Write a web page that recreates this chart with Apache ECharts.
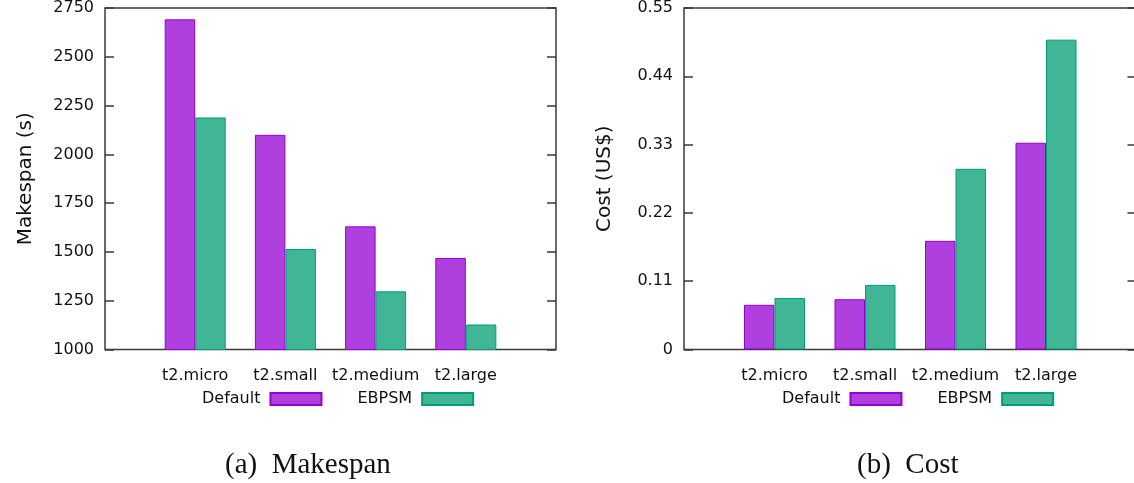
<!DOCTYPE html>
<html>
<head>
<meta charset="utf-8">
<script src="https://cdn.jsdelivr.net/npm/echarts@6/dist/echarts.min.js"></script>
<style>
html,body{margin:0;padding:0;background:#fff;}
#chart{width:1134px;height:483px;}
</style>
</head>
<body>
<div id="chart"></div>
<script>
const categories = ['t2.micro', 't2.small', 't2.medium', 't2.large'];
const seriesNames = ['Default', 'EBPSM'];
const makespanDefault = [2692, 2100, 1631, 1469];
const makespanEBPSM = [2189, 1515, 1298, 1128];
const costDefault = [0.072, 0.081, 0.175, 0.333];
const costEBPSM = [0.083, 0.104, 0.291, 0.499];
const makespanTicks = {min: 1000, max: 2750, interval: 250};
const costTicks = {min: 0, max: 0.55, interval: 0.11};
const captions = ['(a)  Makespan', '(b)  Cost'];

const FONT = '"DejaVu Sans", Verdana, sans-serif';
const TXT = '#111';
const AX = '#3a3a3a';
const purpleFill = '#af40de', purpleLine = '#9400d3';
const greenFill = '#40b696', greenLine = '#009e73';

const xCats = [''].concat(categories, ['']);
const pad = a => [null].concat(a, [null]);

function fmt(v){ return String(Math.round(v * 1000) / 1000); }

const grids = [
  {left: 105, top: 8, width: 451, height: 341.5, show: true, borderColor: AX, borderWidth: 1.5, backgroundColor: 'transparent', outerBoundsMode: 'none', containLabel: false},
  {left: 684, top: 8, width: 452.5, height: 341.5, show: true, borderColor: AX, borderWidth: 1.5, backgroundColor: 'transparent', outerBoundsMode: 'none', containLabel: false}
];

function xAxisFor(i){
  return {
    type: 'category', gridIndex: i, data: xCats, boundaryGap: false,
    axisLine: {show: false}, axisTick: {show: false}, splitLine: {show: false},
    axisLabel: {interval: 0, margin: 18, fontSize: 16, fontFamily: FONT, color: TXT}
  };
}
function yAxisFor(i, t, name, pos){
  const main = pos === 'left';
  return {
    type: 'value', gridIndex: i, position: pos, min: t.min, max: t.max, interval: t.interval,
    name: main ? name : '', nameLocation: 'middle', nameGap: 69,
    nameTextStyle: {fontSize: 20, fontFamily: FONT, color: TXT},
    axisLine: {show: false},
    axisTick: {show: true, inside: true, length: 9, lineStyle: {color: AX, width: 1.5}},
    splitLine: {show: false},
    axisLabel: {show: main, margin: 11, fontSize: 16, fontFamily: FONT, color: TXT, formatter: fmt}
  };
}
function bar(name, data, i, fill, line){
  return {
    type: 'bar', name: name, xAxisIndex: i, yAxisIndex: i * 2, data: pad(data),
    barWidth: 30.5, barGap: '0%',
    itemStyle: {color: fill, borderColor: line, borderWidth: 1},
    emphasis: {disabled: true}, animation: false
  };
}
function legendAt(left){
  return {
    left: left, top: 386, data: seriesNames, align: 'right', icon: 'rect',
    itemWidth: 51, itemHeight: 12, itemGap: 35, selectedMode: false,
    textStyle: {fontSize: 16, fontFamily: FONT, color: TXT, padding: [0, 5, 0, 0]}
  };
}

const chart = echarts.init(document.getElementById('chart'));
chart.setOption({
  animation: false,
  backgroundColor: '#fff',
  grid: grids,
  xAxis: [xAxisFor(0), xAxisFor(1)],
  yAxis: [
    yAxisFor(0, makespanTicks, 'Makespan (s)', 'left'),
    yAxisFor(0, makespanTicks, '', 'right'),
    yAxisFor(1, costTicks, 'Cost (US$)', 'left'),
    yAxisFor(1, costTicks, '', 'right')
  ],
  legend: [legendAt(197), legendAt(777)],
  series: [
    bar(seriesNames[0], makespanDefault, 0, purpleFill, purpleLine),
    bar(seriesNames[1], makespanEBPSM, 0, greenFill, greenLine),
    bar(seriesNames[0], costDefault, 1, purpleFill, purpleLine),
    bar(seriesNames[1], costEBPSM, 1, greenFill, greenLine)
  ],
  graphic: [
    {type: 'text', left: 225, top: 451, style: {text: captions[0], font: '29px "Liberation Serif", "Times New Roman", serif', fill: '#111'}},
    {type: 'text', left: 857, top: 451, style: {text: captions[1], font: '29px "Liberation Serif", "Times New Roman", serif', fill: '#111'}}
  ]
});
</script>
</body>
</html>
